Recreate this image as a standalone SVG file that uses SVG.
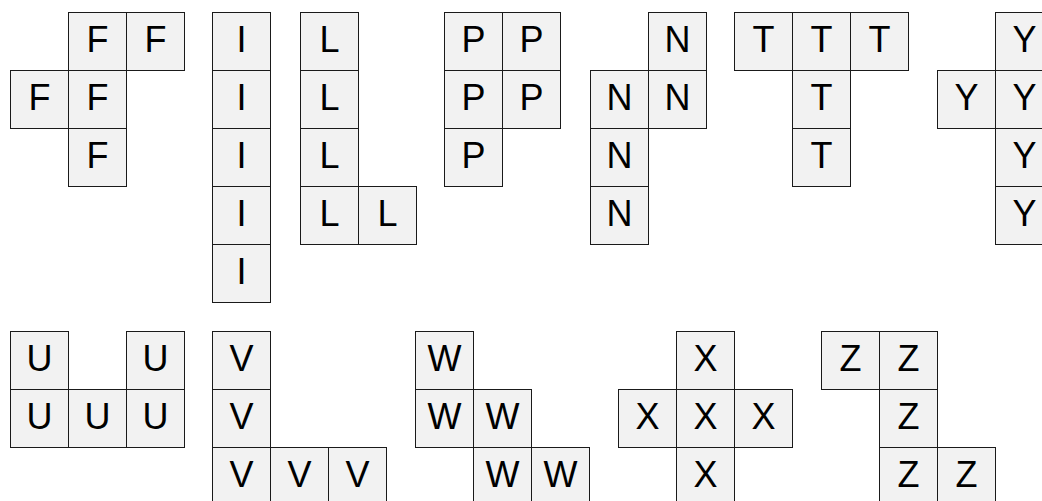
<svg xmlns="http://www.w3.org/2000/svg" width="1042" height="501" viewBox="0 0 1042 501">
<style>
rect.c{fill:#f2f2f2;stroke:#1a1a1a;stroke-width:1}
text{font-family:"Liberation Sans",Arial,sans-serif;font-size:36px;fill:#000;text-anchor:middle}
</style>
<rect x="0" y="0" width="1042" height="501" fill="#fff"/>
<g id="F">
<rect class="c" x="68.5" y="12.5" width="58" height="58"/><text x="97.5" y="52">F</text>
<rect class="c" x="126.5" y="12.5" width="58" height="58"/><text x="155.5" y="52">F</text>
<rect class="c" x="10.5" y="70.5" width="58" height="58"/><text x="39.5" y="110">F</text>
<rect class="c" x="68.5" y="70.5" width="58" height="58"/><text x="97.5" y="110">F</text>
<rect class="c" x="68.5" y="128.5" width="58" height="58"/><text x="97.5" y="168">F</text>
</g>
<g id="I">
<rect class="c" x="212.5" y="12.5" width="58" height="58"/><text x="241.5" y="52">I</text>
<rect class="c" x="212.5" y="70.5" width="58" height="58"/><text x="241.5" y="110">I</text>
<rect class="c" x="212.5" y="128.5" width="58" height="58"/><text x="241.5" y="168">I</text>
<rect class="c" x="212.5" y="186.5" width="58" height="58"/><text x="241.5" y="226">I</text>
<rect class="c" x="212.5" y="244.5" width="58" height="58"/><text x="241.5" y="284">I</text>
</g>
<g id="L">
<rect class="c" x="300.5" y="12.5" width="58" height="58"/><text x="329.5" y="52">L</text>
<rect class="c" x="300.5" y="70.5" width="58" height="58"/><text x="329.5" y="110">L</text>
<rect class="c" x="300.5" y="128.5" width="58" height="58"/><text x="329.5" y="168">L</text>
<rect class="c" x="300.5" y="186.5" width="58" height="58"/><text x="329.5" y="226">L</text>
<rect class="c" x="358.5" y="186.5" width="58" height="58"/><text x="387.5" y="226">L</text>
</g>
<g id="P">
<rect class="c" x="444.5" y="12.5" width="58" height="58"/><text x="473.5" y="52">P</text>
<rect class="c" x="502.5" y="12.5" width="58" height="58"/><text x="531.5" y="52">P</text>
<rect class="c" x="444.5" y="70.5" width="58" height="58"/><text x="473.5" y="110">P</text>
<rect class="c" x="502.5" y="70.5" width="58" height="58"/><text x="531.5" y="110">P</text>
<rect class="c" x="444.5" y="128.5" width="58" height="58"/><text x="473.5" y="168">P</text>
</g>
<g id="N">
<rect class="c" x="648.5" y="12.5" width="58" height="58"/><text x="677.5" y="52">N</text>
<rect class="c" x="590.5" y="70.5" width="58" height="58"/><text x="619.5" y="110">N</text>
<rect class="c" x="648.5" y="70.5" width="58" height="58"/><text x="677.5" y="110">N</text>
<rect class="c" x="590.5" y="128.5" width="58" height="58"/><text x="619.5" y="168">N</text>
<rect class="c" x="590.5" y="186.5" width="58" height="58"/><text x="619.5" y="226">N</text>
</g>
<g id="T">
<rect class="c" x="734.5" y="12.5" width="58" height="58"/><text x="763.5" y="52">T</text>
<rect class="c" x="792.5" y="12.5" width="58" height="58"/><text x="821.5" y="52">T</text>
<rect class="c" x="850.5" y="12.5" width="58" height="58"/><text x="879.5" y="52">T</text>
<rect class="c" x="792.5" y="70.5" width="58" height="58"/><text x="821.5" y="110">T</text>
<rect class="c" x="792.5" y="128.5" width="58" height="58"/><text x="821.5" y="168">T</text>
</g>
<g id="Y">
<rect class="c" x="995.5" y="12.5" width="58" height="58"/><text x="1024.5" y="52">Y</text>
<rect class="c" x="937.5" y="70.5" width="58" height="58"/><text x="966.5" y="110">Y</text>
<rect class="c" x="995.5" y="70.5" width="58" height="58"/><text x="1024.5" y="110">Y</text>
<rect class="c" x="995.5" y="128.5" width="58" height="58"/><text x="1024.5" y="168">Y</text>
<rect class="c" x="995.5" y="186.5" width="58" height="58"/><text x="1024.5" y="226">Y</text>
</g>
<g id="U">
<rect class="c" x="10.5" y="331.5" width="58" height="58"/><text x="39.5" y="371">U</text>
<rect class="c" x="126.5" y="331.5" width="58" height="58"/><text x="155.5" y="371">U</text>
<rect class="c" x="10.5" y="389.5" width="58" height="58"/><text x="39.5" y="429">U</text>
<rect class="c" x="68.5" y="389.5" width="58" height="58"/><text x="97.5" y="429">U</text>
<rect class="c" x="126.5" y="389.5" width="58" height="58"/><text x="155.5" y="429">U</text>
</g>
<g id="V">
<rect class="c" x="212.5" y="331.5" width="58" height="58"/><text x="241.5" y="371">V</text>
<rect class="c" x="212.5" y="389.5" width="58" height="58"/><text x="241.5" y="429">V</text>
<rect class="c" x="212.5" y="447.5" width="58" height="58"/><text x="241.5" y="487">V</text>
<rect class="c" x="270.5" y="447.5" width="58" height="58"/><text x="299.5" y="487">V</text>
<rect class="c" x="328.5" y="447.5" width="58" height="58"/><text x="357.5" y="487">V</text>
</g>
<g id="W">
<rect class="c" x="415.5" y="331.5" width="58" height="58"/><text x="444.5" y="371">W</text>
<rect class="c" x="415.5" y="389.5" width="58" height="58"/><text x="444.5" y="429">W</text>
<rect class="c" x="473.5" y="389.5" width="58" height="58"/><text x="502.5" y="429">W</text>
<rect class="c" x="473.5" y="447.5" width="58" height="58"/><text x="502.5" y="487">W</text>
<rect class="c" x="531.5" y="447.5" width="58" height="58"/><text x="560.5" y="487">W</text>
</g>
<g id="X">
<rect class="c" x="676.5" y="331.5" width="58" height="58"/><text x="705.5" y="371">X</text>
<rect class="c" x="618.5" y="389.5" width="58" height="58"/><text x="647.5" y="429">X</text>
<rect class="c" x="676.5" y="389.5" width="58" height="58"/><text x="705.5" y="429">X</text>
<rect class="c" x="734.5" y="389.5" width="58" height="58"/><text x="763.5" y="429">X</text>
<rect class="c" x="676.5" y="447.5" width="58" height="58"/><text x="705.5" y="487">X</text>
</g>
<g id="Z">
<rect class="c" x="821.5" y="331.5" width="58" height="58"/><text x="850.5" y="371">Z</text>
<rect class="c" x="879.5" y="331.5" width="58" height="58"/><text x="908.5" y="371">Z</text>
<rect class="c" x="879.5" y="389.5" width="58" height="58"/><text x="908.5" y="429">Z</text>
<rect class="c" x="879.5" y="447.5" width="58" height="58"/><text x="908.5" y="487">Z</text>
<rect class="c" x="937.5" y="447.5" width="58" height="58"/><text x="966.5" y="487">Z</text>
</g>
</svg>
